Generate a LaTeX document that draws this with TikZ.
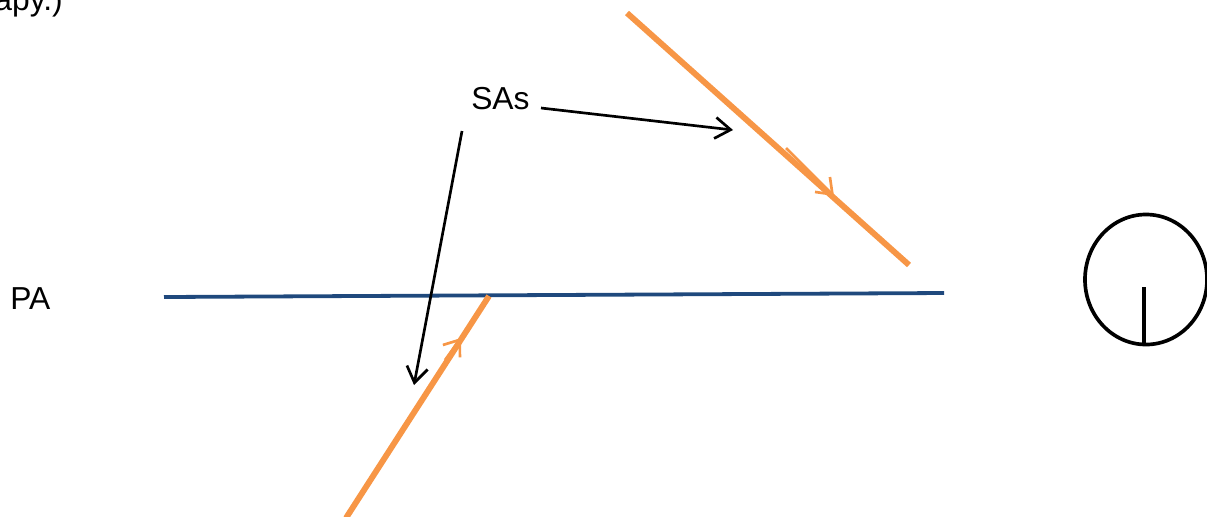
\documentclass[tikz,border=0pt]{standalone}
\usepackage{fontspec}
\setmainfont{Liberation Sans}
\usetikzlibrary{arrows.meta,shapes.geometric}
\definecolor{paBlue}{HTML}{1F497D}
\definecolor{saOrange}{HTML}{F79646}
\tikzset{
  label/.style={font=\fontsize{22.6pt}{27pt}\selectfont,inner sep=0pt},
  pointer/.style={draw=black,line width=1.9pt,-{Straight Barb[length=11pt,width=15pt,line width=1.9pt]}},
  strand/.style={draw=saOrange,line width=4.2pt},
  strandtip/.style={draw=saOrange,line width=1.9pt,-{Straight Barb[length=10pt,width=15pt,line width=1.9pt]}}
}
\begin{document}
\begin{tikzpicture}[x=0.025cm,y=-0.025cm]
  \useasboundingbox (0,0) rectangle (1207,516);
   \node[label,anchor=base east] at (63,10)  (cut) {apy.)};
   \node[label,anchor=base west] at (471,109)  (SAs) {SAs};
   \node[label,anchor=base west] at (10,309)  (PA) {PA};

    \coordinate (SAsR) at (541,108);
    \coordinate (SAsB) at (462,131);
    \coordinate (tipA) at (733,130);
    \coordinate (tipB) at (414,385);

    \coordinate (paL) at (164,297);
    \coordinate (paR) at (944,293);
    \coordinate (upA) at (627,13);
    \coordinate (upB) at (909,265);
    \coordinate (upC) at (786,148);
    \coordinate (upD) at (834,196);
    \coordinate (lowA) at (346,518);
    \coordinate (lowB) at (489,296);
    \coordinate (lowC) at (445,360);
    \coordinate (lowD) at (461,338);

    \draw[paBlue,line width=2.7pt] (paL) -- (paR);
    \draw[strand] (upA) -- (upB);
    \draw[strandtip] (upC) -- (upD);
    \draw[strand] (lowA) -- (lowB);
    \draw[strandtip] (lowC) -- (lowD);

    \draw[pointer] (SAsR) -- (tipA);
    \draw[pointer] (SAsB) -- (tipB);

    % gauge
    \node[draw=black,line width=2.6pt,ellipse,inner sep=0pt,minimum width=3.05cm,minimum height=3.25cm] at (1146,279.5) (gauge) {};
    \coordinate (needle) at (1144,287);
    \coordinate (needleB) at (1144,345);
    \draw[black,line width=2.6pt] (needle) -- (needleB);
\end{tikzpicture}
\end{document}
